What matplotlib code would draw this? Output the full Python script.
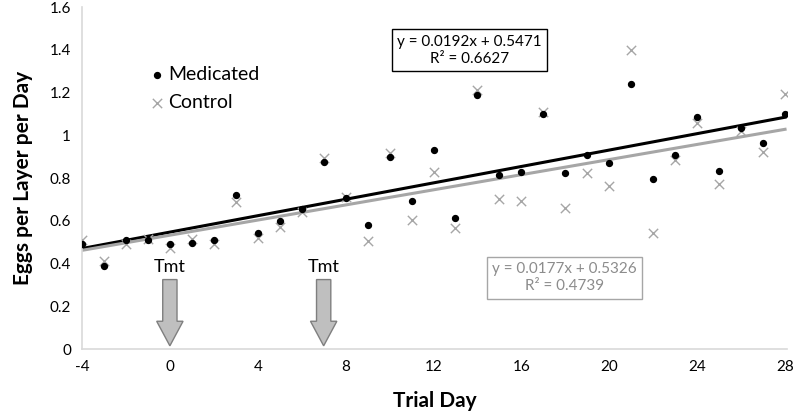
import matplotlib
matplotlib.use('Agg')
import matplotlib.pyplot as plt
import numpy as np
from matplotlib.patches import FancyArrow

plt.rcParams['font.family'] = ['Lato', 'DejaVu Sans']
plt.rcParams['axes.unicode_minus'] = False

days = list(range(-4, 29))
medicated = [0.49, 0.39, 0.51, 0.51, 0.49, 0.495, 0.51, 0.72, 0.545, 0.60, 0.655,
             0.875, 0.705, 0.58, 0.90, 0.695, 0.93, 0.615, 1.19, 0.815, 0.83, 1.10,
             0.825, 0.91, 0.87, 1.24, 0.795, 0.91, 1.085, 0.835, 1.035, 0.965, 1.10]
control = [0.51, 0.41, 0.49, 0.515, 0.475, 0.515, 0.49, 0.69, 0.52, 0.57, 0.64,
           0.895, 0.71, 0.505, 0.915, 0.605, 0.83, 0.565, 1.21, 0.70, 0.695, 1.11,
           0.66, 0.825, 0.765, 1.40, 0.545, 0.885, 1.06, 0.77, 1.02, 0.92, 1.195]
med_fit = (0.0192, 0.5471, 0.6627)
ctl_fit = (0.0177, 0.5326, 0.4739)
tmt_days = [0, 7]

fig = plt.figure(figsize=(7.96, 4.18), dpi=100)
ax = fig.add_axes([0.103, 0.165, 0.886, 0.818])

# Points
ax.scatter(days, control, marker='x', s=45, c='#a6a6a6', linewidths=1.0,
           label='Control', zorder=3)
ax.scatter(days, medicated, marker='o', s=18, c='black', label='Medicated', zorder=4)

# Trend lines
xs = np.array([days[0], days[-1]])
ax.plot(xs, med_fit[0] * xs + med_fit[1], color='black', lw=2.2, zorder=2)
ax.plot(xs, ctl_fit[0] * xs + ctl_fit[1], color='#a6a6a6', lw=2.2, zorder=2)

# Treatment arrows
for d in tmt_days:
    ax.add_patch(FancyArrow(d, 0.325, 0, -0.31, width=0.65, head_width=1.2,
                            head_length=0.115, length_includes_head=True,
                            facecolor='#bfbfbf', edgecolor='#7f7f7f', lw=1.0,
                            zorder=2))
    ax.text(d, 0.385, 'Tmt', ha='center', va='center', fontsize=13)

# Equation boxes
ax.text(0.549, 0.874, 'y = %.4fx + %.4f\nR² = %.4f' % med_fit,
        transform=ax.transAxes, ha='center', va='center', fontsize=11,
        linespacing=1.3,
        bbox=dict(boxstyle='square,pad=0.35', fc='white', ec='black', lw=1))
ax.text(0.684, 0.209, 'y = %.4fx + %.4f\nR² = %.4f' % ctl_fit,
        transform=ax.transAxes, ha='center', va='center', fontsize=11,
        color='#8c8c8c', linespacing=1.3,
        bbox=dict(boxstyle='square,pad=0.35', fc='white', ec='#a6a6a6', lw=1))

ax.set_xlim(-4, 28.1)
ax.set_ylim(0, 1.6)
ax.set_xticks(range(-4, 29, 4))
ax.set_yticks(np.arange(0, 1.61, 0.2))
ax.set_yticklabels(['0', '0.2', '0.4', '0.6', '0.8', '1', '1.2', '1.4', '1.6'])
ax.tick_params(length=0, labelsize=11, pad=8)
for s in ['top', 'right']:
    ax.spines[s].set_visible(False)
for s in ['left', 'bottom']:
    ax.spines[s].set_color('#d9d9d9')
    ax.spines[s].set_linewidth(1.2)

ax.set_xlabel('Trial Day', fontsize=15, fontweight='bold', labelpad=12)
ax.set_ylabel('Eggs per Layer per Day', fontsize=15, fontweight='bold', labelpad=12)

handles, labels = ax.get_legend_handles_labels()
ax.legend(handles[::-1], labels[::-1], loc='upper left', bbox_to_anchor=(0.07, 0.88),
          frameon=False, fontsize=14, handletextpad=0.2, handlelength=0.8,
          labelspacing=0.6)

plt.savefig('out.png', dpi=100)
plt.close()
